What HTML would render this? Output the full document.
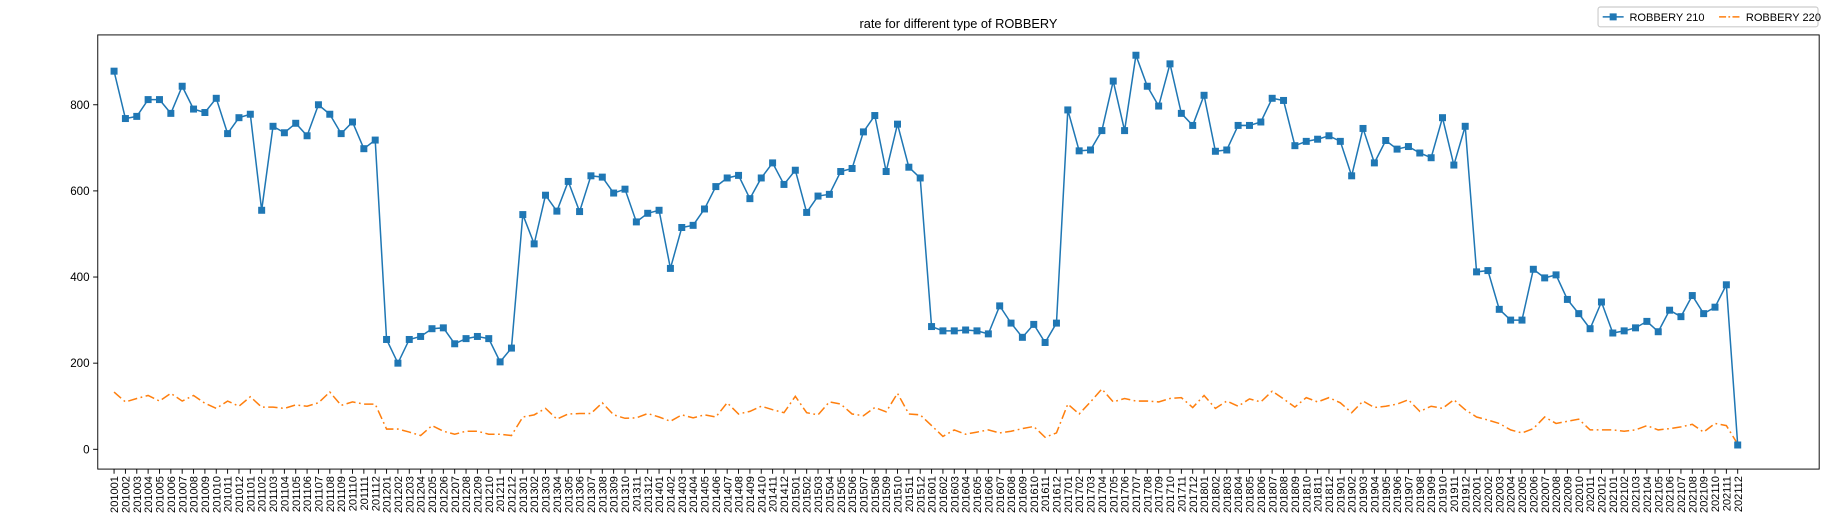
<!DOCTYPE html>
<html><head><meta charset="utf-8"><style>
body{margin:0;background:#fff;width:1825px;height:521px;overflow:hidden;font-family:"Liberation Sans",sans-serif}
</style></head><body>
<svg id="chart" width="1825" height="521" viewBox="0 0 1568 447.6" preserveAspectRatio="none" xmlns="http://www.w3.org/2000/svg" font-family="Liberation Sans, sans-serif"></svg>
<script>
const years = [2010,2011,2012,2013,2014,2015,2016,2017,2018,2019,2020,2021];
const yTicks = [0,200,400,600,800];
const robbery210 = [
878,768,773,812,812,780,843,790,782,815,733,770,
778,555,750,735,757,728,800,778,733,760,698,718,
255,200,255,262,280,282,245,257,262,257,203,235,
545,477,590,553,622,552,635,632,595,604,528,548,
555,420,515,520,558,610,630,636,582,630,665,615,
648,550,588,592,645,652,737,775,645,755,655,630,
285,275,275,277,275,268,333,293,260,290,248,293,
788,693,695,740,855,740,915,843,797,895,780,752,
822,692,695,752,752,760,815,810,705,715,720,728,
715,635,745,665,717,697,703,688,677,770,660,750,
412,415,325,300,300,418,398,405,348,315,280,342,
270,275,282,297,273,323,308,357,315,330,382,10];
const robbery220 = [
133,110,118,125,112,130,112,125,107,95,112,100,
122,98,98,95,103,100,108,133,102,110,105,105,
47,47,40,32,55,42,35,42,42,35,35,32,
75,80,95,70,82,83,83,108,80,72,73,83,
75,65,80,73,80,75,108,82,88,100,92,85,
123,85,80,110,105,82,78,97,87,130,82,80,
55,30,45,35,40,45,38,42,48,53,28,38,
105,82,110,140,110,118,112,112,110,118,120,97,
125,95,112,100,117,110,135,117,98,120,110,120,
108,85,112,97,100,105,115,88,100,95,115,92,
75,68,60,45,38,48,75,60,65,70,45,45,
45,42,45,55,45,48,52,58,40,60,55,12];

const categories = [];
years.forEach(y=>{for(let m=1;m<=12;m++)categories.push(y+String(m).padStart(2,'0'));});

const L=84,R=1563,T=30,B=403;
const X0=98,X1=1493;
const n=categories.length;
const xs=i=>X0+(X1-X0)*i/(n-1);
const ys=v=>386-v*0.37;
const svg=document.getElementById('chart');
const NS='http://www.w3.org/2000/svg';
function mk(tag,attrs,parent){const e=document.createElementNS(NS,tag);for(const k in attrs)e.setAttribute(k,attrs[k]);(parent||svg).appendChild(e);return e;}

const title=mk('text',{x:(L+R)/2,y:24,'text-anchor':'middle','font-size':11,fill:'#000'});


title.textContent='rate for different type of ROBBERY';

const yAxis=mk('g',{});


yTicks.forEach(t=>{
  const y=ys(t);
  mk('line',{x1:L-4,x2:L,y1:y,y2:y,stroke:'#000','stroke-width':0.8},yAxis);
  const tx=mk('text',{x:L-7,y:y+3.5,'text-anchor':'end','font-size':10,fill:'#000'},yAxis);
  
  
  tx.textContent=t;
});

const xAxis=mk('g',{});


categories.forEach((c,i)=>{
  const x=xs(i);
  mk('line',{x1:x,x2:x,y1:B,y2:B+4,stroke:'#000','stroke-width':0.8},xAxis);
  const tx=mk('text',{x:0,y:0,'text-anchor':'end','font-size':9.5,fill:'#000',transform:`translate(${x+3.5},${B+6}) rotate(-90)`},xAxis);
  
  
  tx.textContent=c;
});

const s2=mk('polyline',{points:robbery220.map((v,i)=>xs(i)+','+ys(v)).join(' '),fill:'none',stroke:'#ff7f0e','stroke-width':1.3,'stroke-dasharray':'8,3,1.5,3'});



const s1=mk('polyline',{points:robbery210.map((v,i)=>xs(i)+','+ys(v)).join(' '),fill:'none',stroke:'#1f77b4','stroke-width':1.3});


robbery210.forEach((v,i)=>{
  const r=mk('rect',{x:xs(i)-3,y:ys(v)-3,width:6,height:6,fill:'#1f77b4'});
  
  
});

const frame=mk('rect',{x:L,y:T,width:R-L,height:B-T,fill:'none',stroke:'#000','stroke-width':0.8});



const lg=mk('g',{});


mk('rect',{x:1373,y:6,width:189,height:17,rx:2,fill:'#fff',stroke:'#ccc'},lg);
mk('line',{x1:1377,x2:1395,y1:14.5,y2:14.5,stroke:'#1f77b4','stroke-width':1.3},lg);
mk('rect',{x:1383,y:11.5,width:6,height:6,fill:'#1f77b4'},lg);
const l1=mk('text',{x:1400,y:18,'font-size':9.5,fill:'#000'},lg);


l1.textContent='ROBBERY 210';
mk('line',{x1:1477,x2:1495,y1:14.5,y2:14.5,stroke:'#ff7f0e','stroke-width':1.3,'stroke-dasharray':'6,2,1.5,2'},lg);
const l2=mk('text',{x:1500,y:18,'font-size':9.5,fill:'#000'},lg);


l2.textContent='ROBBERY 220';
</script>
</body></html>
